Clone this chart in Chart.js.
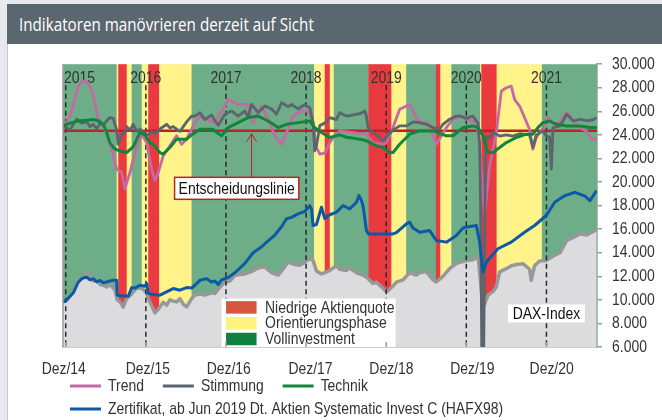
<!DOCTYPE html>
<html><head><meta charset="utf-8">
<script src="https://cdn.jsdelivr.net/npm/chart.js@4.4.1/dist/chart.umd.min.js"></script>
<style>
html,body{margin:0;padding:0;background:#e7e9ef;overflow:hidden;width:662px;height:420px}
#title{position:absolute;left:7px;top:4px;width:655px;height:40px;background:#5b676f;overflow:hidden}
#title span{position:absolute;left:12px;top:0;line-height:40px;font-size:19px;font-family:"Open Sans","Noto Sans",sans-serif;color:#fff;transform:scaleX(0.8);transform-origin:0 50%;white-space:nowrap}
#panel{position:absolute;left:7px;top:44px;width:655px;height:376px;background:#fff;border-left:1px solid #c6c9d0;box-sizing:border-box}
#c{position:absolute;left:8px;top:44px}
</style></head><body>
<div id="title"><span>Indikatoren manövrieren derzeit auf Sicht</span></div>
<div id="panel"></div>
<canvas id="c" width="654" height="376"></canvas>
<script>
// ---------- data (time as decimal year) ----------
const xMin = 2014.966, xMax = 2021.631;
const yearTicks = [2015, 2016, 2017, 2018, 2019, 2020, 2021];
const yearLabels = ['2015', '2016', '2017', '2018', '2019', '2020', '2021'];
const dezTicks = [2014.975, 2016.025, 2017.035, 2018.055, 2019.065, 2020.075, 2021.065];
const dezLabels = ['Dez/14', 'Dez/15', 'Dez/16', 'Dez/17', 'Dez/18', 'Dez/19', 'Dez/20'];
const decisionLevel = 24350;

const bandStart = [2014.966, 2015.636, 2015.656, 2015.761, 2015.823, 2015.948, 2016.030, 2016.167, 2016.571, 2018.100, 2018.233, 2018.296, 2018.345, 2018.779, 2019.065, 2019.249, 2019.621, 2019.676, 2019.813, 2020.172, 2020.187, 2020.378, 2020.943];
const bandEnd   = [2015.636, 2015.656, 2015.761, 2015.823, 2015.948, 2016.030, 2016.167, 2016.571, 2018.100, 2018.233, 2018.296, 2018.345, 2018.779, 2019.065, 2019.249, 2019.621, 2019.676, 2019.813, 2020.172, 2020.187, 2020.378, 2020.943, 2021.631];
const bandPhase = ['G','Y','R','Y','G','Y','R','Y','G','Y','R','Y','G','R','Y','G','R','Y','G','Y','R','Y','G'];
const phaseNames = ['Niedrige Aktienquote', 'Orientierungsphase', 'Vollinvestment'];

const daxSeries = [[2014.966,9830],[2015.012,9980],[2015.095,10700],[2015.137,11500],[2015.2,11830],[2015.262,12370],[2015.282,12230],[2015.344,11600],[2015.387,11700],[2015.428,11300],[2015.469,11240],[2015.511,11100],[2015.552,11300],[2015.615,10820],[2015.643,10000],[2015.677,9830],[2015.718,9380],[2015.761,10120],[2015.823,10500],[2015.885,10990],[2015.948,11000],[2016.01,10600],[2016.03,10120],[2016.072,9500],[2016.113,8900],[2016.155,9200],[2016.217,9800],[2016.259,9550],[2016.3,10000],[2016.342,9900],[2016.384,9830],[2016.425,10100],[2016.471,9600],[2016.509,9400],[2016.571,10100],[2016.612,10400],[2016.675,10500],[2016.737,10400],[2016.82,10600],[2016.862,10540],[2016.903,10900],[2016.945,11240],[2016.986,11500],[2017.049,11600],[2017.111,12090],[2017.236,12200],[2017.319,12400],[2017.402,12700],[2017.485,12800],[2017.569,12300],[2017.651,12100],[2017.734,12800],[2017.776,13210],[2017.859,13000],[2017.921,12930],[2017.984,13200],[2018.046,13500],[2018.087,13350],[2018.13,12450],[2018.192,12200],[2018.233,12300],[2018.296,12500],[2018.379,12900],[2018.42,12600],[2018.504,12500],[2018.545,12700],[2018.629,12300],[2018.711,12100],[2018.753,11940],[2018.835,11400],[2018.878,11500],[2018.96,11000],[2019.003,10680],[2019.044,10900],[2019.127,11500],[2019.21,11700],[2019.293,12300],[2019.376,12100],[2019.418,12300],[2019.501,12400],[2019.584,11700],[2019.626,11520],[2019.708,12000],[2019.792,12650],[2019.876,13100],[2019.958,13250],[2020.0,13350],[2020.082,13400],[2020.125,13630],[2020.153,13300],[2020.178,11500],[2020.207,9300],[2020.237,9800],[2020.27,10400],[2020.333,10700],[2020.374,11100],[2020.416,12370],[2020.499,12650],[2020.561,12900],[2020.624,13000],[2020.706,13070],[2020.789,12600],[2020.81,11660],[2020.852,12900],[2020.914,13300],[2021.0,13350],[2021.082,13700],[2021.17,14000],[2021.253,15040],[2021.336,15300],[2021.419,15600],[2021.502,15500],[2021.585,15800],[2021.627,15950]];

const certSeries = [[2014.966,9830],[2015.012,9980],[2015.054,10300],[2015.095,10600],[2015.137,11200],[2015.157,11500],[2015.2,11800],[2015.262,11940],[2015.303,11700],[2015.344,11800],[2015.387,11520],[2015.428,11650],[2015.469,11450],[2015.511,11520],[2015.552,11600],[2015.594,11660],[2015.636,11660],[2015.643,10400],[2015.7,10350],[2015.781,10310],[2015.823,11040],[2015.864,11000],[2015.926,11240],[2015.989,11150],[2016.01,11380],[2016.03,10540],[2016.1,10450],[2016.176,10400],[2016.259,10680],[2016.342,10960],[2016.425,10820],[2016.509,11040],[2016.571,11000],[2016.612,11240],[2016.675,11660],[2016.758,11800],[2016.82,11520],[2016.862,11600],[2016.903,11300],[2016.945,11700],[2017.027,11900],[2017.111,12300],[2017.173,12700],[2017.236,13100],[2017.339,14000],[2017.402,14300],[2017.444,14500],[2017.526,15000],[2017.61,15500],[2017.693,16200],[2017.756,16880],[2017.818,17000],[2017.9,17300],[2017.984,17500],[2018.046,18000],[2018.067,17720],[2018.087,16310],[2018.13,16400],[2018.192,17860],[2018.233,16900],[2018.274,17160],[2018.379,17440],[2018.461,18000],[2018.504,17860],[2018.545,17720],[2018.629,18280],[2018.661,18850],[2018.691,18420],[2018.711,18000],[2018.753,15880],[2018.779,15600],[2019.085,15600],[2019.127,15700],[2019.21,16200],[2019.252,16450],[2019.293,16590],[2019.334,16100],[2019.418,15740],[2019.542,15880],[2019.626,15040],[2019.751,14900],[2019.876,15460],[2019.958,16100],[2019.991,16170],[2020.125,16310],[2020.166,14900],[2020.207,12370],[2020.25,13210],[2020.394,14340],[2020.561,14900],[2020.727,15740],[2020.852,16310],[2020.998,17160],[2021.103,18280],[2021.232,18850],[2021.357,19130],[2021.481,18800],[2021.543,18420],[2021.627,19270]];

const trendSeries = [[2014.979,24760],[2015.054,25600],[2015.157,28140],[2015.219,28560],[2015.282,28420],[2015.344,27300],[2015.406,25330],[2015.469,24760],[2015.552,23350],[2015.636,21100],[2015.698,20820],[2015.739,19410],[2015.802,20820],[2015.864,22500],[2015.948,24060],[2016.01,23350],[2016.072,21100],[2016.113,20110],[2016.155,20820],[2016.217,22230],[2016.3,23070],[2016.384,23920],[2016.446,23210],[2016.509,23640],[2016.571,24480],[2016.612,25040],[2016.675,25600],[2016.737,25330],[2016.862,25040],[2016.986,26450],[2017.027,27010],[2017.152,26590],[2017.277,26590],[2017.339,25040],[2017.382,25600],[2017.444,26450],[2017.526,25330],[2017.61,23920],[2017.693,23210],[2017.756,24200],[2017.838,25600],[2017.943,26030],[2018.025,26030],[2018.087,25040],[2018.13,22930],[2018.171,22370],[2018.233,22450],[2018.296,23350],[2018.337,23780],[2018.42,24340],[2018.586,24200],[2018.753,24060],[2018.835,23350],[2018.96,23210],[2019.003,23350],[2019.085,24620],[2019.168,26170],[2019.293,26590],[2019.334,26000],[2019.376,25400],[2019.438,25040],[2019.521,25040],[2019.584,23920],[2019.626,23210],[2019.688,23920],[2019.751,24620],[2019.834,25330],[2019.938,25600],[2020.0,25330],[2020.125,25040],[2020.166,23350],[2020.207,19000],[2020.228,17160],[2020.291,21380],[2020.374,24200],[2020.437,27720],[2020.499,28000],[2020.561,28140],[2020.603,27000],[2020.665,26450],[2020.727,25470],[2020.789,24480],[2020.831,22790],[2020.873,23780],[2020.935,24340],[2021.019,25470],[2021.082,25000],[2021.144,24900],[2021.253,25890],[2021.336,25200],[2021.419,24600],[2021.502,24300],[2021.564,23600],[2021.627,23700]];

const moodSeries = [[2014.979,24760],[2015.054,24400],[2015.095,24900],[2015.137,25330],[2015.2,25000],[2015.262,25100],[2015.303,24700],[2015.344,24900],[2015.387,24500],[2015.428,25000],[2015.469,24800],[2015.511,25200],[2015.552,25470],[2015.594,25400],[2015.615,24900],[2015.636,24400],[2015.656,23200],[2015.698,24000],[2015.739,24200],[2015.761,24700],[2015.802,24400],[2015.843,24900],[2015.885,24300],[2015.926,24500],[2015.968,24200],[2016.03,24000],[2016.072,24300],[2016.113,24100],[2016.176,24500],[2016.259,24900],[2016.3,24600],[2016.342,24700],[2016.425,24300],[2016.509,25100],[2016.571,25600],[2016.612,25600],[2016.675,25890],[2016.737,25300],[2016.82,25700],[2016.862,25200],[2016.903,24800],[2016.986,25750],[2017.07,26030],[2017.152,25600],[2017.236,26030],[2017.277,25500],[2017.319,26590],[2017.402,25900],[2017.485,26450],[2017.569,26200],[2017.631,25750],[2017.693,26730],[2017.776,26400],[2017.818,26590],[2017.9,26200],[2017.984,26590],[2018.046,26300],[2018.087,25040],[2018.108,22650],[2018.13,23070],[2018.171,24800],[2018.233,25000],[2018.296,25470],[2018.379,25300],[2018.42,25890],[2018.504,25600],[2018.586,25700],[2018.67,25800],[2018.732,26030],[2018.753,25600],[2018.773,24620],[2018.835,24200],[2018.878,24000],[2018.96,23500],[2019.023,24000],[2019.085,24400],[2019.168,24760],[2019.252,24760],[2019.334,25100],[2019.418,25040],[2019.501,24900],[2019.584,24620],[2019.667,24500],[2019.708,24900],[2019.792,25330],[2019.876,25600],[2019.917,25600],[2020.0,25400],[2020.082,25600],[2020.145,25000],[2020.166,23210],[2020.178,18000],[2020.195,4000],[2020.215,4000],[2020.237,22000],[2020.25,23800],[2020.291,23780],[2020.333,24200],[2020.416,23900],[2020.499,24000],[2020.582,23900],[2020.665,24100],[2020.789,24000],[2020.831,22930],[2020.873,24000],[2020.956,24340],[2020.998,23900],[2021.04,23800],[2021.061,21100],[2021.082,24620],[2021.17,24760],[2021.253,25750],[2021.336,25180],[2021.419,25330],[2021.502,25200],[2021.585,25300],[2021.627,25470]];

const techSeries = [[2014.966,24760],[2015.054,25000],[2015.137,25150],[2015.262,25250],[2015.344,25300],[2015.406,25200],[2015.469,24900],[2015.511,24200],[2015.552,23300],[2015.615,22790],[2015.677,22650],[2015.761,22500],[2015.843,23000],[2015.926,24200],[2015.989,24000],[2016.051,23350],[2016.092,23210],[2016.176,22500],[2016.217,22370],[2016.3,22930],[2016.384,23640],[2016.509,23640],[2016.571,24000],[2016.675,24480],[2016.84,24480],[2016.862,24300],[2016.945,23920],[2017.027,24620],[2017.152,25040],[2017.277,25470],[2017.402,25600],[2017.526,25180],[2017.651,24620],[2017.756,24900],[2017.859,25000],[2018.046,25180],[2018.108,24620],[2018.192,24200],[2018.296,23780],[2018.42,24000],[2018.504,23800],[2018.67,23640],[2018.753,23500],[2018.878,23070],[2018.96,22930],[2019.044,22500],[2019.085,22500],[2019.168,23210],[2019.293,24060],[2019.418,24340],[2019.584,24340],[2019.751,23920],[2019.834,23920],[2019.958,24620],[2020.082,24760],[2020.145,24620],[2020.207,23900],[2020.27,22500],[2020.333,22500],[2020.416,22930],[2020.499,23350],[2020.624,23780],[2020.748,24060],[2020.831,24060],[2020.893,24620],[2020.956,25040],[2021.04,25180],[2021.124,24900],[2021.253,24760],[2021.419,24760],[2021.543,24620],[2021.627,24620]];

// annotation anchors (data coordinates)
const calloutArrowX = 2017.32, calloutBoxX = 2017.134, calloutBoxTop = 20400;
const bandLegendX = 2016.945, bandLegendTop = 10120;
const daxLabelX = 2020.519, daxLabelTop = 9610;

// ---------- styles ----------
const FONT_FAMILY = '"Liberation Sans",Arial,sans-serif';
const TEXT_SCALE = 0.82; // condensed (narrow) rendering of canvas text
const TEXT = '#333333';
const BAND_COLORS = {G: '#6dae88', Y: '#fff389', R: '#e83a3f'};
const SWATCH_COLORS = ['#d6573f', '#fff27e', '#10803e'];
const C = {trend: '#c46aa3', mood: '#5c646e', tech: '#12853c', cert: '#0c5aa6', daxLine: '#979899', daxFill: '#dcdcde', decision: '#c0202a', axis: '#9b9b9b'};

const pts = s => s.map(p => ({x: p[0], y: p[1]}));
const fmt = v => String(v).replace(/\B(?=(\d{3})+(?!\d))/g, '.');

const DAX_INDEX = 5;
const legendRows = [[0, 1, 2], [3]];

// narrow text rendering on the chart canvas
function condense(ctx, k) {
  const fill = ctx.fillText.bind(ctx);
  const measure = ctx.measureText.bind(ctx);
  ctx.fillText = function (t, x, y, mw) {
    ctx.save(); ctx.translate(x, y); ctx.scale(k, 1);
    if (mw === undefined || mw === null) fill(t, 0, 0); else fill(t, 0, 0, mw / k);
    ctx.restore();
  };
  ctx.measureText = function (t) {
    const m = measure(t);
    return {width: m.width * k,
      actualBoundingBoxLeft: m.actualBoundingBoxLeft * k, actualBoundingBoxRight: m.actualBoundingBoxRight * k,
      actualBoundingBoxAscent: m.actualBoundingBoxAscent, actualBoundingBoxDescent: m.actualBoundingBoxDescent,
      fontBoundingBoxAscent: m.fontBoundingBoxAscent, fontBoundingBoxDescent: m.fontBoundingBoxDescent};
  };
}

const overlay = {
  id: 'overlay',
  beforeDatasetsDraw(chart) {
    const {ctx, chartArea: a, scales: {x}} = chart;
    ctx.save();
    for (let i = 0; i < bandStart.length; i++) {
      const x0 = x.getPixelForValue(bandStart[i]);
      const x1 = x.getPixelForValue(bandEnd[i]);
      ctx.fillStyle = BAND_COLORS[bandPhase[i]];
      ctx.fillRect(x0, a.top, x1 - x0 + 0.4, a.bottom - a.top);
    }
    ctx.restore();
  },
  afterDatasetDraw(chart, args) {
    if (args.index !== DAX_INDEX) return;
    const {ctx, chartArea: a, scales: {x}} = chart;
    ctx.save();
    ctx.strokeStyle = '#2b2b2b';
    ctx.lineWidth = 1.5;
    ctx.setLineDash([5, 3.5]);
    yearTicks.forEach(v => {
      const px = x.getPixelForValue(v);
      ctx.beginPath(); ctx.moveTo(px, a.top + 21); ctx.lineTo(px, a.bottom); ctx.stroke();
    });
    ctx.setLineDash([]);
    ctx.font = '17px ' + FONT_FAMILY;
    ctx.fillStyle = TEXT;
    ctx.textBaseline = 'middle';
    yearTicks.forEach((v, i) => {
      ctx.textAlign = i === 0 ? 'left' : 'center';
      ctx.fillText(yearLabels[i], i === 0 ? a.left + 1 : x.getPixelForValue(v), a.top + 14);
    });
    ctx.restore();
  },
  afterDatasetsDraw(chart) {
    const {ctx, chartArea: a, scales: {x, y}} = chart;
    ctx.save();
    ctx.font = '17px ' + FONT_FAMILY;
    ctx.textBaseline = 'middle';
    // callout "Entscheidungslinie"
    const ax = x.getPixelForValue(calloutArrowX);
    const tipY = y.getPixelForValue(decisionLevel) + 3;
    const bTop = y.getPixelForValue(calloutBoxTop);
    const label = 'Entscheidungslinie';
    const tw = ctx.measureText(label).width;
    const bw = tw + 8, bh = 22;
    const bcx = x.getPixelForValue(calloutBoxX);
    ctx.strokeStyle = C.decision; ctx.lineWidth = 1;
    ctx.beginPath(); ctx.moveTo(ax, bTop); ctx.lineTo(ax, tipY); ctx.stroke();
    ctx.beginPath(); ctx.moveTo(ax - 5, tipY + 8); ctx.lineTo(ax, tipY); ctx.lineTo(ax + 5, tipY + 8); ctx.stroke();
    ctx.fillStyle = '#fff';
    ctx.fillRect(bcx - bw / 2, bTop, bw, bh);
    ctx.lineWidth = 1.5;
    ctx.strokeRect(bcx - bw / 2, bTop, bw, bh);
    ctx.fillStyle = '#111'; ctx.textAlign = 'center';
    ctx.fillText(label, bcx, bTop + bh / 2 + 1);
    // band legend
    const lx = x.getPixelForValue(bandLegendX), ly = y.getPixelForValue(bandLegendTop);
    ctx.fillStyle = '#fff';
    ctx.fillRect(lx, ly, 174, a.bottom - ly);
    phaseNames.forEach((n, i) => {
      const ry = ly + 2.7 + i * 15.8;
      ctx.fillStyle = SWATCH_COLORS[i];
      ctx.fillRect(lx + 4.5, ry, 30.5, 12.5);
      ctx.fillStyle = TEXT; ctx.textAlign = 'left';
      ctx.fillText(n, lx + 43.5, ry + 6.8);
    });
    // DAX-Index label
    const dx = x.getPixelForValue(daxLabelX), dy = y.getPixelForValue(daxLabelTop);
    ctx.fillStyle = '#fff';
    ctx.fillRect(dx, dy, 77, 18);
    ctx.fillStyle = '#111'; ctx.textAlign = 'center';
    ctx.fillText('DAX-Index', dx + 38.5, dy + 9.5);
    ctx.restore();
  },
  afterDraw(chart) {
    const {ctx, chartArea: a, scales: {x}} = chart;
    ctx.save();
    ctx.strokeStyle = C.axis; ctx.lineWidth = 1.5;
    ctx.beginPath(); ctx.moveTo(a.left, a.top); ctx.lineTo(a.left, a.bottom); ctx.stroke();
    yearTicks.forEach(v => {
      const px = x.getPixelForValue(v);
      ctx.beginPath(); ctx.moveTo(px, a.bottom); ctx.lineTo(px, a.bottom - 5); ctx.stroke();
    });
    // series legend
    ctx.font = '17px ' + FONT_FAMILY;
    ctx.textBaseline = 'middle'; ctx.textAlign = 'left';
    legendRows.forEach((row, r) => {
      let cx = a.left + 7;
      const cy = a.bottom + 39 + r * 23;
      row.forEach(di => {
        const ds = chart.data.datasets[di];
        ctx.fillStyle = ds.borderColor;
        ctx.fillRect(cx, cy - 1.5, 31, 3);
        ctx.fillStyle = TEXT;
        ctx.fillText(ds.label, cx + 38, cy);
        cx += 38 + ctx.measureText(ds.label).width + 19;
      });
    });
    ctx.restore();
  }
};

const tickFont = {family: FONT_FAMILY, size: 17};
const canvas = document.getElementById('c');
condense(canvas.getContext('2d'), TEXT_SCALE);

new Chart(canvas, {
  type: 'line',
  data: {
    datasets: [
      {label: 'Trend', data: pts(trendSeries), borderColor: C.trend, borderWidth: 2.8, order: 4},
      {label: 'Stimmung', data: pts(moodSeries), borderColor: C.mood, borderWidth: 2.8, order: 3},
      {label: 'Technik', data: pts(techSeries), borderColor: C.tech, borderWidth: 3, order: 2},
      {label: 'Zertifikat, ab Jun 2019 Dt. Aktien Systematic Invest C (HAFX98)', data: pts(certSeries), borderColor: C.cert, borderWidth: 3, order: 1},
      {label: 'Entscheidungslinie', data: [{x: xMin, y: decisionLevel}, {x: xMax, y: decisionLevel}], borderColor: C.decision, borderWidth: 2.5, order: 5},
      {label: 'DAX-Index', data: pts(daxSeries), borderColor: C.daxLine, backgroundColor: C.daxFill, fill: 'start', borderWidth: 3.5, order: 10}
    ]
  },
  options: {
    responsive: false,
    animation: false,
    devicePixelRatio: 1,
    elements: {point: {radius: 0}, line: {tension: 0, borderJoinStyle: 'round'}},
    layout: {padding: {left: 55, top: 18, right: 0, bottom: 43}},
    scales: {
      x: {
        type: 'linear', min: xMin, max: xMax,
        afterBuildTicks: s => { s.ticks = dezTicks.map(v => ({value: v})); },
        afterFit: s => { s.height = 30; },
        ticks: {autoSkip: false, maxRotation: 0, font: tickFont, color: TEXT, padding: 12,
          callback: v => dezLabels[dezTicks.indexOf(v)]},
        grid: {display: true, drawOnChartArea: false, drawTicks: false},
        border: {color: C.axis, width: 1.5}
      },
      y: {
        position: 'right', min: 6000, max: 30000,
        afterFit: s => { s.width = 65; },
        ticks: {stepSize: 2000, font: tickFont, color: TEXT, padding: 10, callback: v => fmt(v)},
        grid: {drawOnChartArea: false, drawTicks: true, tickLength: 5, color: C.axis, lineWidth: 1.5},
        border: {color: C.axis, width: 1.5}
      }
    },
    plugins: {legend: {display: false}, tooltip: {enabled: false}}
  },
  plugins: [overlay]
});
</script>
</body></html>
